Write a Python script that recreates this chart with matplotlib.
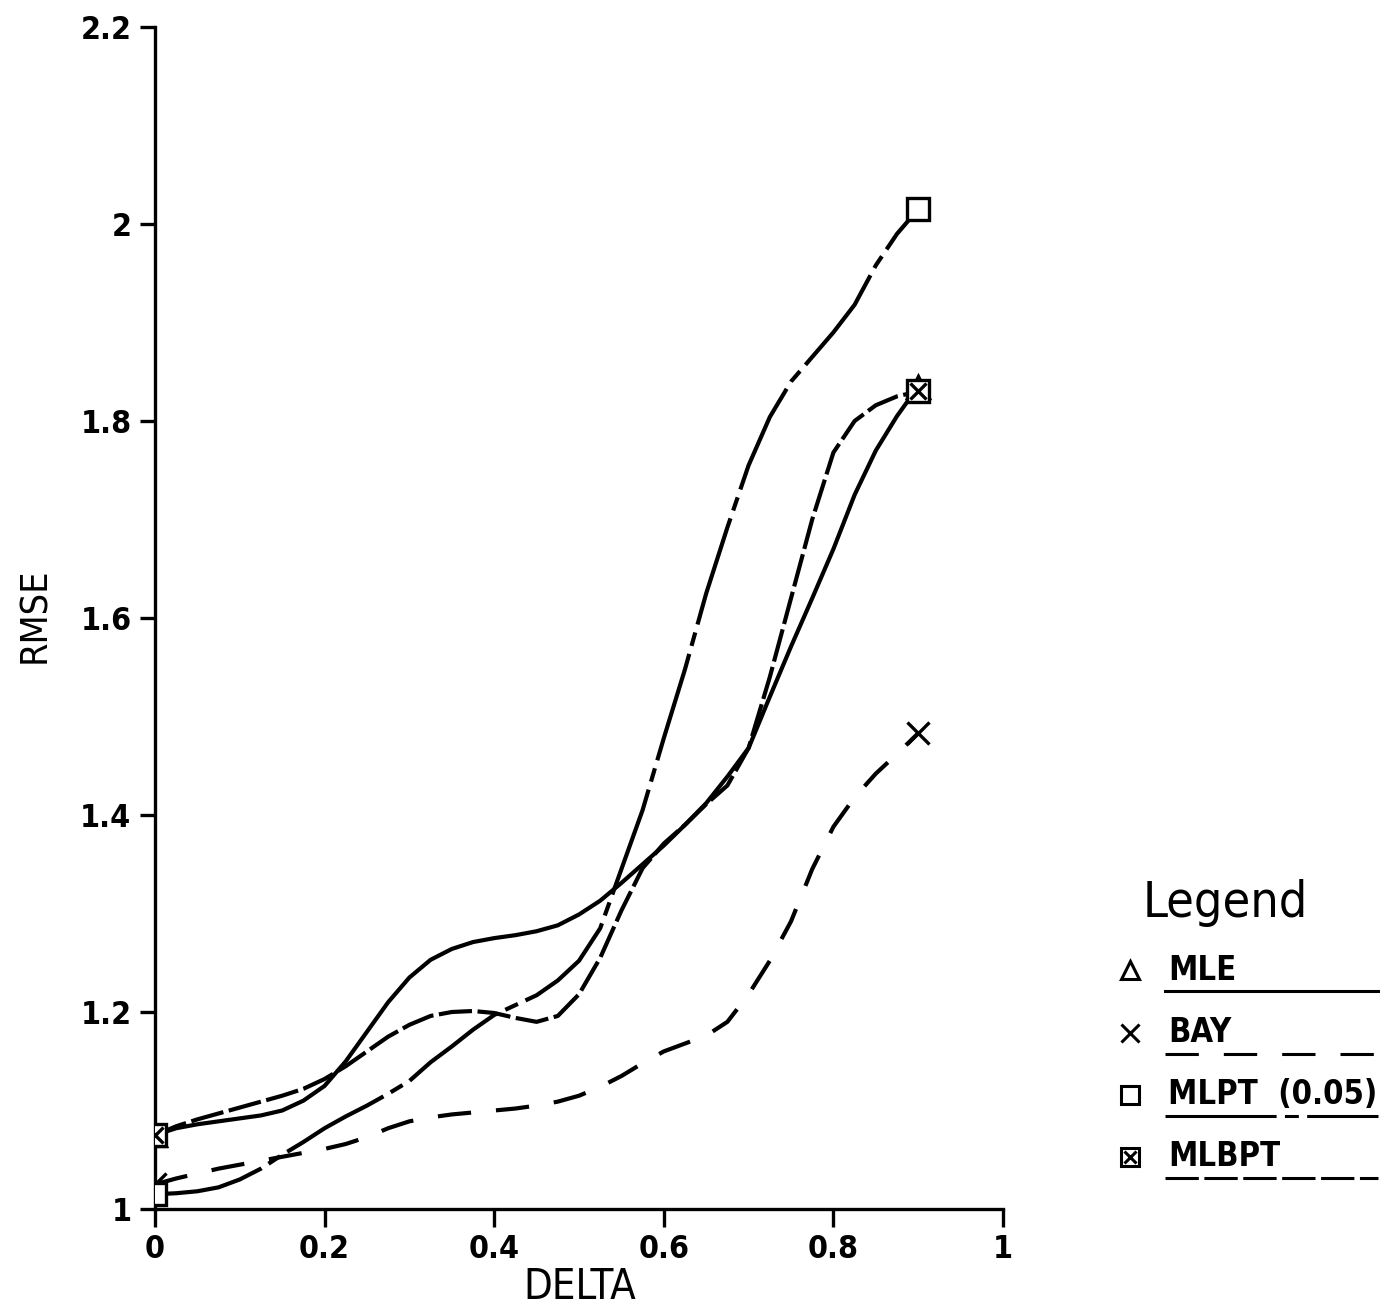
import matplotlib
matplotlib.use('Agg')
import matplotlib.pyplot as plt
from matplotlib.lines import Line2D

plt.rcParams['font.family'] = ['DejaVu Sans']
plt.rcParams['font.stretch'] = 'condensed'
plt.rcParams['lines.scale_dashes'] = False

delta = [0, 0.025, 0.05, 0.075, 0.1, 0.125, 0.15, 0.175, 0.2, 0.225,
         0.25, 0.275, 0.3, 0.325, 0.35, 0.375, 0.4, 0.425, 0.45, 0.475,
         0.5, 0.525, 0.55, 0.575, 0.6, 0.625, 0.65, 0.675, 0.7, 0.725,
         0.75, 0.775, 0.8, 0.825, 0.85, 0.875, 0.9]
mle = [1.075, 1.082, 1.086, 1.089, 1.092, 1.095, 1.100, 1.110, 1.125, 1.150,
       1.180, 1.210, 1.235, 1.253, 1.264, 1.271, 1.275, 1.278, 1.282, 1.288,
       1.299, 1.313, 1.331, 1.350, 1.369, 1.390, 1.412, 1.439, 1.468, 1.520,
       1.571, 1.620, 1.670, 1.725, 1.770, 1.805, 1.835]
bay = [1.025, 1.031, 1.036, 1.041, 1.045, 1.049, 1.053, 1.057, 1.061, 1.066,
       1.073, 1.082, 1.089, 1.093, 1.096, 1.098, 1.100, 1.102, 1.105, 1.109,
       1.115, 1.124, 1.135, 1.148, 1.160, 1.168, 1.176, 1.190, 1.218, 1.252,
       1.292, 1.345, 1.388, 1.418, 1.442, 1.462, 1.483]
mlpt = [1.015, 1.016, 1.018, 1.022, 1.030, 1.041, 1.055, 1.068, 1.082, 1.094,
        1.105, 1.117, 1.130, 1.149, 1.165, 1.182, 1.197, 1.207, 1.217, 1.232,
        1.252, 1.285, 1.345, 1.405, 1.478, 1.548, 1.625, 1.692, 1.755, 1.804,
        1.840, 1.865, 1.890, 1.918, 1.958, 1.990, 2.015]
mlbpt = [1.075, 1.084, 1.091, 1.097, 1.103, 1.109, 1.115, 1.122, 1.132, 1.145,
         1.160, 1.175, 1.187, 1.196, 1.200, 1.201, 1.199, 1.194, 1.190, 1.196,
         1.218, 1.255, 1.303, 1.346, 1.371, 1.390, 1.411, 1.430, 1.468, 1.540,
         1.620, 1.700, 1.768, 1.800, 1.816, 1.825, 1.830]

mark_x = [0, 0.9]
xticks = [0, 0.2, 0.4, 0.6, 0.8, 1]
yticks = [1, 1.2, 1.4, 1.6, 1.8, 2, 2.2]
names = ['MLE', 'BAY', 'MLPT  (0.05)', 'MLBPT']

W, H = 1382, 1311
fig = plt.figure(figsize=(W / 100, H / 100), dpi=100)
ax = fig.add_axes([155 / W, 1 - 1209 / H, 848 / W, 1182 / H])

lw = 3.0
styles = {
    'MLE': dict(ls='-'),
    'BAY': dict(dashes=(24, 18)),
    'MLPT  (0.05)': dict(dashes=(80, 6, 10, 6)),
    'MLBPT': dict(dashes=(24, 4)),
}
ax.plot(delta, mle, color='black', lw=lw, solid_joinstyle='round', **styles['MLE'])
ax.plot(delta, bay, color='black', lw=lw, **styles['BAY'])
ax.plot(delta, mlpt, color='black', lw=lw, **styles['MLPT  (0.05)'])
ax.plot(delta, mlbpt, color='black', lw=lw, **styles['MLBPT'])

mk = dict(color='black', ls='none', ms=16, mew=2.4, mfc='white', zorder=5)
ax.plot(mark_x, [mle[0], mle[-1]], marker='^', **mk)
ax.plot(mark_x, [bay[0], bay[-1]], marker='x', **mk)
ax.plot(mark_x, [mlpt[0], mlpt[-1]], marker='s', **mk)
ax.plot(mark_x, [mlbpt[0], mlbpt[-1]], marker='s', **mk)
ax.plot(mark_x, [mlbpt[0], mlbpt[-1]], marker='x', color='black', ls='none', ms=11, mew=2.4, zorder=6)

ax.set_xlim(0, 1)
ax.set_ylim(1, 2.2)
ax.set_xticks(xticks)
ax.set_xticklabels(['{:g}'.format(t) for t in xticks])
ax.set_yticks(yticks)
ax.set_yticklabels(['{:g}'.format(t) for t in yticks])
ax.spines['top'].set_visible(False)
ax.spines['right'].set_visible(False)
ax.spines['left'].set_linewidth(2.4)
ax.spines['bottom'].set_linewidth(2.4)
ax.tick_params(axis='x', direction='out', length=13, width=2.4, labelsize=23, pad=5)
ax.tick_params(axis='y', direction='out', length=11, width=2.4, labelsize=23, pad=6)
for lab in ax.get_xticklabels() + ax.get_yticklabels():
    lab.set_fontweight('bold')

fig.text(580 / W, 1 - 1287 / H, 'DELTA', fontsize=30, ha='center', va='center')
fig.text(35 / W, 1 - 615 / H, 'RMSE', fontsize=27, rotation=90, ha='center', va='center')

# legend drawn by hand on the right
fig.text(1143 / W, 1 - 903 / H, 'Legend', fontsize=36, va='center', ha='left')
rows = [970, 1033, 1095, 1157]
markers = ['^', 'x', 's', 's']
for name, y, m in zip(names, rows, markers):
    fig.add_artist(Line2D([1130 / W], [1 - y / H], marker=m, color='black', ls='none',
                          ms=13, mew=2.2, mfc='white'))
    if name == 'MLBPT':
        fig.add_artist(Line2D([1130 / W], [1 - y / H], marker='x', color='black', ls='none',
                              ms=9, mew=2.2))
    fig.text(1168 / W, 1 - y / H, name, fontsize=23.5, fontweight='bold', va='center', ha='left')
    fig.add_artist(Line2D([1165 / W, 1378 / W], [1 - (y + 21) / H] * 2, color='black', lw=2.2,
                          **styles[name]))

fig.savefig('out.png', dpi=100)
